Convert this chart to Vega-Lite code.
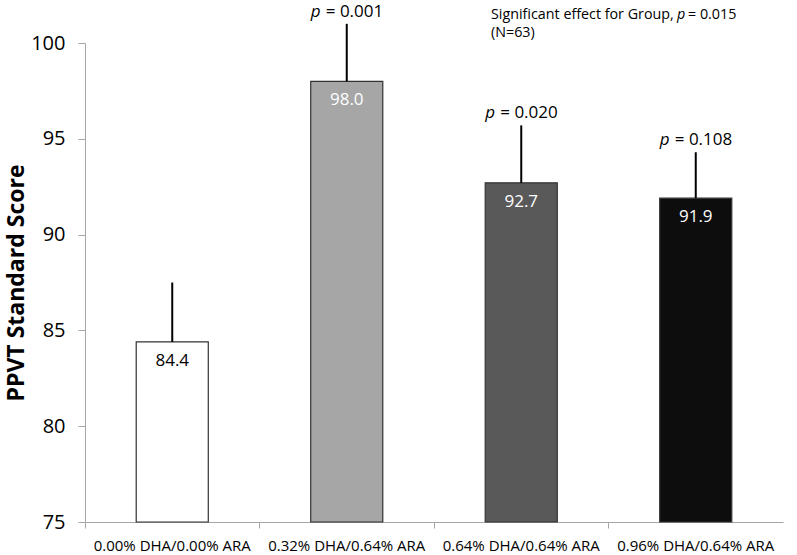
{
  "$schema": "https://vega.github.io/schema/vega-lite/v6.json",
  "width": 698,
  "height": 479,
  "autosize": {"type": "none"},
  "padding": {"left": 85, "top": 43, "right": 14, "bottom": 33},
  "background": "white",
  "config": {"view": {"stroke": null}, "font": "Open Sans"},
  "data": {
    "values": [
      {"group": "0.00% DHA/0.00% ARA", "score": 84.4, "upper": 87.5, "p": ""},
      {"group": "0.32% DHA/0.64% ARA", "score": 98.0, "upper": 101.0, "p": "= 0.001"},
      {"group": "0.64% DHA/0.64% ARA", "score": 92.7, "upper": 95.7, "p": "= 0.020"},
      {"group": "0.96% DHA/0.64% ARA", "score": 91.9, "upper": 94.3, "p": "= 0.108"}
    ]
  },
  "resolve": {"axis": {"x": "independent"}},
  "layer": [
    {
      "mark": {"type": "bar", "width": {"band": 0.413}, "stroke": "#333333", "strokeWidth": 1.2},
      "encoding": {
        "x": {
          "field": "group", "type": "nominal", "sort": null,
          "scale": {"domain": ["0.00% DHA/0.00% ARA", "0.32% DHA/0.64% ARA", "0.64% DHA/0.64% ARA", "0.96% DHA/0.64% ARA"], "paddingInner": 0, "paddingOuter": 0},
          "axis": {"orient": "bottom", "title": null, "labelAngle": 0, "labelFontSize": 15, "labelColor": "black", "ticks": false, "domainColor": "#a6a6a6", "domainWidth": 1, "labelPadding": 16}
        },
        "y": {
          "field": "score", "type": "quantitative",
          "scale": {"domain": [75, 100], "nice": false, "zero": false},
          "axis": {"values": [75, 80, 85, 90, 95, 100], "grid": false, "labelFontSize": 20, "labelColor": "black", "tickSize": 7, "tickColor": "#a6a6a6", "domainColor": "#a6a6a6", "labelPadding": 13, "title": "PPVT Standard Score", "titleFontSize": 23, "titleFontWeight": "bold", "titleColor": "black", "titlePadding": 2}
        },
        "y2": {"datum": 75},
        "fill": {
          "field": "group", "type": "nominal", "legend": null,
          "scale": {"domain": ["0.00% DHA/0.00% ARA", "0.32% DHA/0.64% ARA", "0.64% DHA/0.64% ARA", "0.96% DHA/0.64% ARA"], "range": ["#ffffff", "#a6a6a6", "#595959", "#0d0d0d"]}
        }
      }
    },
    {
      "mark": {"type": "rule", "color": "black", "strokeWidth": 2},
      "encoding": {
        "x": {"field": "group", "type": "nominal", "sort": null,
          "axis": {"orient": "bottom", "title": null, "labels": false, "domain": false, "ticks": true, "bandPosition": 0, "tickSize": 6, "tickColor": "#a6a6a6"}},
        "y": {"field": "score", "type": "quantitative"},
        "y2": {"field": "upper"}
      }
    },
    {
      "mark": {"type": "text", "fontSize": 17, "baseline": "middle", "dy": 19},
      "encoding": {
        "x": {"field": "group", "type": "nominal", "sort": null, "axis": null},
        "y": {"field": "score", "type": "quantitative"},
        "text": {"field": "score", "type": "quantitative", "format": ".1f"},
        "color": {
          "field": "group", "type": "nominal", "legend": null,
          "scale": {"domain": ["0.00% DHA/0.00% ARA", "0.32% DHA/0.64% ARA", "0.64% DHA/0.64% ARA", "0.96% DHA/0.64% ARA"], "range": ["#000000", "#ffffff", "#ffffff", "#ffffff"]}
        }
      }
    },
    {
      "transform": [{"filter": "datum.p != ''"}],
      "mark": {"type": "text", "text": "p", "fontStyle": "italic", "fontSize": 17, "align": "left", "baseline": "middle", "dx": -36, "dy": -12, "color": "black"},
      "encoding": {
        "x": {"field": "group", "type": "nominal", "sort": null, "axis": null},
        "y": {"field": "upper", "type": "quantitative"}
      }
    },
    {
      "transform": [{"filter": "datum.p != ''"}],
      "mark": {"type": "text", "fontSize": 17, "align": "left", "baseline": "middle", "dx": -21, "dy": -12, "color": "black"},
      "encoding": {
        "x": {"field": "group", "type": "nominal", "sort": null, "axis": null},
        "y": {"field": "upper", "type": "quantitative"},
        "text": {"field": "p"}
      }
    },
    {
      "data": {"values": [{"group": "0.64% DHA/0.64% ARA", "text": "Significant effect for Group,"}]},
      "mark": {"type": "text", "fontSize": 14.3, "align": "left", "baseline": "middle", "dx": 57, "color": "black"},
      "encoding": {
        "x": {"field": "group", "type": "nominal", "bandPosition": 0, "axis": null},
        "y": {"datum": 101.45},
        "text": {"field": "text"}
      }
    },
    {
      "data": {"values": [{"group": "0.64% DHA/0.64% ARA", "text": "p"}]},
      "mark": {"type": "text", "fontSize": 14.3, "fontStyle": "italic", "align": "left", "baseline": "middle", "dx": 243, "color": "black"},
      "encoding": {
        "x": {"field": "group", "type": "nominal", "bandPosition": 0, "axis": null},
        "y": {"datum": 101.45},
        "text": {"field": "text"}
      }
    },
    {
      "data": {"values": [{"group": "0.64% DHA/0.64% ARA", "text": "= 0.015"}]},
      "mark": {"type": "text", "fontSize": 14.3, "align": "left", "baseline": "middle", "dx": 254, "color": "black"},
      "encoding": {
        "x": {"field": "group", "type": "nominal", "bandPosition": 0, "axis": null},
        "y": {"datum": 101.45},
        "text": {"field": "text"}
      }
    },
    {
      "data": {"values": [{"group": "0.64% DHA/0.64% ARA", "text": "(N=63)"}]},
      "mark": {"type": "text", "fontSize": 14.3, "align": "left", "baseline": "middle", "dx": 57, "color": "black"},
      "encoding": {
        "x": {"field": "group", "type": "nominal", "bandPosition": 0, "axis": null},
        "y": {"datum": 100.5},
        "text": {"field": "text"}
      }
    }
  ]
}
